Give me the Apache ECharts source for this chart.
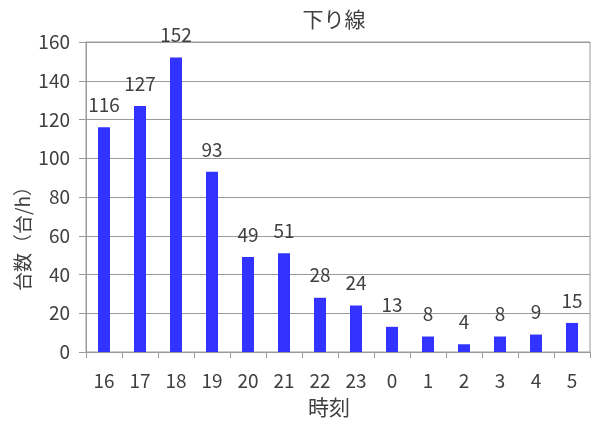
<!DOCTYPE html>
<html>
<head>
<meta charset="utf-8">
<script src="https://cdn.jsdelivr.net/npm/echarts@6/dist/echarts.min.js"></script>
<style>
html, body { margin: 0; padding: 0; background: #fff; }
#chart { width: 595px; height: 423px; }
</style>
</head>
<body>
<div id="chart"></div>
<script>
// Hourly traffic volume, outbound direction
const hours = ['16', '17', '18', '19', '20', '21', '22', '23', '0', '1', '2', '3', '4', '5'];
const volumes = [116, 127, 152, 93, 49, 51, 28, 24, 13, 8, 4, 8, 9, 15];
const yTicks = { min: 0, max: 160, interval: 20 };

const FONT = '"Noto Sans CJK JP", "Noto Sans", sans-serif';
const TEXT = '#404040';
const LINE = '#9a9a9a';

const chart = echarts.init(document.getElementById('chart'), null, { renderer: 'canvas' });
chart.setOption({
  animation: false,
  backgroundColor: '#fff',
  title: {
    text: '下り線',
    left: 329,
    top: 4,
    textAlign: 'center',
    textStyle: { fontFamily: FONT, fontSize: 21, fontWeight: 'normal', color: TEXT }
  },
  grid: {
    left: 86, right: 5, top: 42, bottom: 70,
    show: true, borderColor: LINE, borderWidth: 1, backgroundColor: 'transparent'
  },
  xAxis: {
    type: 'category',
    data: hours,
    name: '時刻',
    nameLocation: 'middle',
    nameGap: 45,
    nameTextStyle: { fontFamily: FONT, fontSize: 21, color: TEXT, padding: [0, 18, 0, 0] },
    axisLine: { lineStyle: { color: LINE } },
    axisTick: { show: true, length: 6, lineStyle: { color: LINE } },
    axisLabel: { fontFamily: FONT, fontSize: 19, color: TEXT, margin: 19 }
  },
  yAxis: {
    type: 'value',
    min: yTicks.min, max: yTicks.max, interval: yTicks.interval,
    axisLine: { show: true, lineStyle: { color: LINE } },
    axisTick: { show: true, length: 7, lineStyle: { color: LINE } },
    axisLabel: { fontFamily: FONT, fontSize: 19, color: TEXT, margin: 16 },
    splitLine: { show: true, lineStyle: { color: LINE, width: 1 } }
  },
  graphic: [{
    type: 'text',
    x: 23, y: 234,
    rotation: Math.PI / 2,
    style: {
      text: '台数（台/h）',
      font: '19px ' + FONT,
      fill: TEXT,
      align: 'center',
      verticalAlign: 'middle'
    }
  }],
  series: [{
    type: 'bar',
    data: volumes,
    barWidth: 12,
    itemStyle: { color: '#3333FF' },
    label: {
      show: true,
      position: 'top',
      distance: 13,
      fontFamily: FONT, fontSize: 19, color: TEXT
    }
  }]
});
</script>
</body>
</html>
